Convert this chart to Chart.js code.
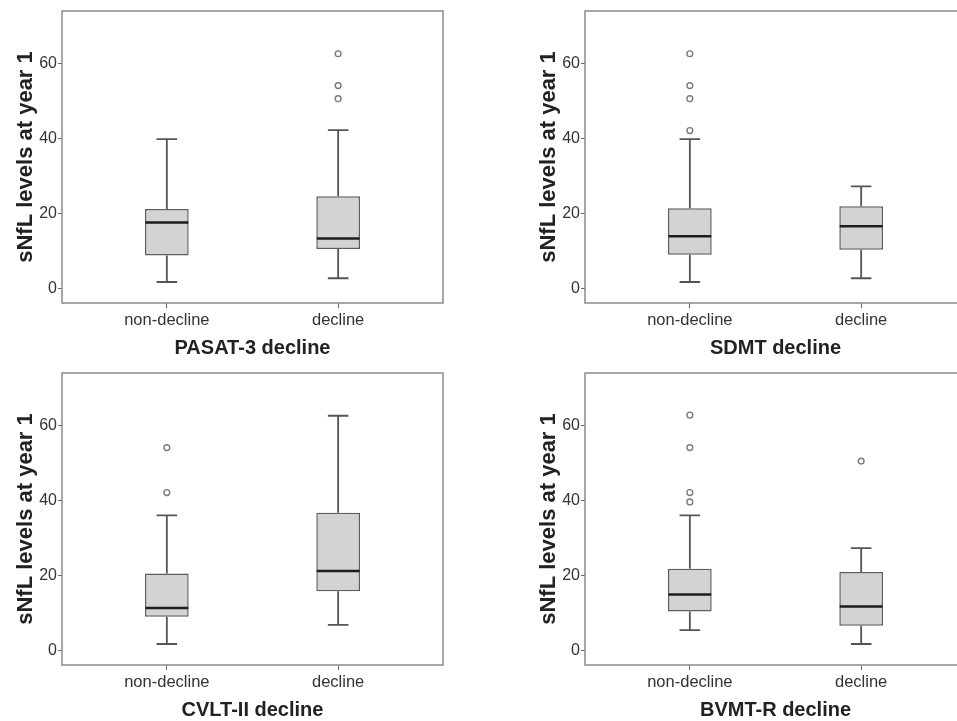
<!DOCTYPE html>
<html>
<head>
<meta charset="utf-8">
<script src="https://cdn.jsdelivr.net/npm/chart.js@4"></script>
<style>
    html, body { margin: 0; padding: 0; background: #fff; overflow: hidden; width: 957px; height: 721px; }
    .panel { position: absolute; width: 478px; height: 360px; }
</style>
</head>
<body>
<div class="panel" style="left:0;top:0"><canvas id="c0"></canvas></div>
<div class="panel" style="left:523px;top:0"><canvas id="c1"></canvas></div>
<div class="panel" style="left:0;top:362px"><canvas id="c2"></canvas></div>
<div class="panel" style="left:523px;top:362px"><canvas id="c3"></canvas></div>
<script>
// data (sNfL at year 1, per group)
const GROUPS = ['non-decline', 'decline'];
const TESTS = ['PASAT-3 decline', 'SDMT decline', 'CVLT-II decline', 'BVMT-R decline'];
const Y_TICKS = [0, 20, 40, 60];

// [lower whisker, Q1, median, Q3, upper whisker] for non-decline / decline
const PASAT_BOX = [[1.7, 8.8, 17.6, 21.2, 39.8], [2.7, 10.5, 13.3, 24.6, 42.2]];
const SDMT_BOX  = [[1.7, 9.0, 13.9, 21.4, 39.8], [2.7, 10.3, 16.6, 21.9, 27.2]];
const CVLT_BOX  = [[1.7, 9.0, 11.3, 20.5, 36.0], [6.8, 15.8, 21.2, 36.7, 62.6]];
const BVMT_BOX  = [[5.4, 10.4, 14.9, 21.8, 36.0], [1.7, 6.6, 11.7, 20.9, 27.3]];

const PASAT_OUT = [[], [62.6, 54.1, 50.6]];
const SDMT_OUT  = [[62.6, 54.1, 50.6, 42.1], []];
const CVLT_OUT  = [[54.1, 42.1], []];
const BVMT_OUT  = [[62.8, 54.1, 42.1, 39.6], [50.5]];

const BOXES = [PASAT_BOX, SDMT_BOX, CVLT_BOX, BVMT_BOX];
const OUTLIERS = [PASAT_OUT, SDMT_OUT, CVLT_OUT, BVMT_OUT];

const BOX_W = 0.125;   // half box width, x units
const CAP_W = 0.06;    // half whisker cap width

// frame around the plot area
const framePlugin = {
    id: 'frame',
    afterDraw(chart) {
        const a = chart.chartArea, ctx = chart.ctx;
        ctx.save();
        ctx.strokeStyle = '#8a8a8a';
        ctx.lineWidth = 1.5;
        ctx.strokeRect(a.left, a.top, a.right - a.left, a.bottom - a.top);
        ctx.restore();
    }
};

function buildDatasets(box, out) {
    const bars = [], whisk = [], med = [], pts = [];
    box.forEach((b, i) => {
        const x = i + 1;
        bars.push({ x: x, y: [b[1], b[3]] });
        whisk.push({ x: x, y: b[0] }, { x: x, y: b[1] }, { x: x, y: null });
        whisk.push({ x: x, y: b[3] }, { x: x, y: b[4] }, { x: x, y: null });
        whisk.push({ x: x - CAP_W, y: b[0] }, { x: x + CAP_W, y: b[0] }, { x: x, y: null });
        whisk.push({ x: x - CAP_W, y: b[4] }, { x: x + CAP_W, y: b[4] }, { x: x, y: null });
        med.push({ x: x - BOX_W, y: b[2] }, { x: x + BOX_W, y: b[2] }, { x: x, y: null });
        out[i].forEach(v => pts.push({ x: x, y: v }));
    });
    return [
        { type: 'bar', data: bars, backgroundColor: '#d3d3d3', borderColor: '#5e5e5e', borderWidth: 1.5,
          borderSkipped: false, barPercentage: 0.255, categoryPercentage: 1, order: 4 },
        { type: 'line', data: whisk, borderColor: '#555', borderWidth: 1.8, pointRadius: 0, spanGaps: false, order: 3 },
        { type: 'line', data: med, borderColor: '#1e1e1e', borderWidth: 2.5, pointRadius: 0, spanGaps: false, order: 2 },
        { type: 'scatter', data: pts, pointRadius: 2.9, pointBorderWidth: 1.4, pointBorderColor: '#7a7a7a',
          pointBackgroundColor: '#fff', order: 1 },
    ];
}

function makeChart(id, k) {
    new Chart(document.getElementById(id), {
        data: { datasets: buildDatasets(BOXES[k], OUTLIERS[k]) },
        options: {
            responsive: false,
            animation: false,
            devicePixelRatio: 1,
            layout: { padding: { left: 13, top: 11, right: 35, bottom: 0 } },
            plugins: { legend: { display: false }, tooltip: { enabled: false } },
            scales: {
                x: {
                    type: 'linear', min: 0.388, max: 2.612, offset: false,
                    afterBuildTicks: s => { s.ticks = [{ value: 1 }, { value: 2 }]; },
                    afterFit: s => { s.height = 57; },
                    grid: { offset: false, drawOnChartArea: false, drawTicks: true, tickLength: 5, color: '#666' },
                    border: { display: false },
                    ticks: { callback: v => GROUPS[v - 1], padding: 3, color: '#333',
                             font: { family: 'Liberation Sans', size: 16.5 }, maxRotation: 0 },
                    title: { display: true, text: TESTS[k], color: '#222', padding: { top: 4, bottom: 0 },
                             font: { family: 'Liberation Sans', size: 20, weight: 'bold' } },
                },
                y: {
                    min: -3.9, max: 74,
                    afterBuildTicks: s => { s.ticks = Y_TICKS.map(v => ({ value: v })); },
                    afterFit: s => { s.width = 49; },
                    grid: { drawOnChartArea: false, drawTicks: true, tickLength: 4, color: '#666' },
                    border: { display: false },
                    ticks: { padding: 1, color: '#333', font: { family: 'Liberation Sans', size: 16 } },
                    title: { display: true, text: 'sNfL levels at year 1', color: '#222', padding: { top: 0, bottom: 3 },
                             font: { family: 'Liberation Sans', size: 22, weight: 'bold' } },
                },
            },
        },
        plugins: [framePlugin],
    });
}

['c0', 'c1', 'c2', 'c3'].forEach((id, k) => {
    const c = document.getElementById(id);
    c.width = 478; c.height = 360;
    makeChart(id, k);
});
</script>
</body>
</html>
